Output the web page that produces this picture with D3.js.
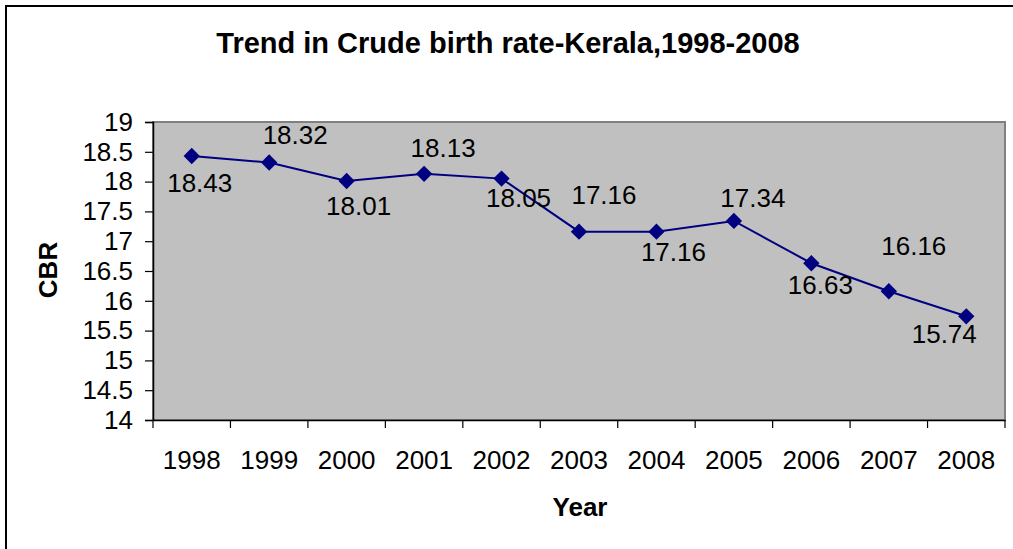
<!DOCTYPE html>
<html>
<head>
<meta charset="utf-8">
<script src="https://cdn.jsdelivr.net/npm/d3@7"></script>
<style>
  body { margin: 0; background: #fff; }
  text { font-family: "Liberation Sans", Arial, sans-serif; fill: #000; }
</style>
</head>
<body>
<svg class="chart" width="1013" height="549"></svg>
<script>
// data
var years = ["1998", "1999", "2000", "2001", "2002", "2003", "2004", "2005", "2006", "2007", "2008"];
var cbr = [18.43, 18.32, 18.01, 18.13, 18.05, 17.16, 17.16, 17.34, 16.63, 16.16, 15.74];
var yTicks = [14, 14.5, 15, 15.5, 16, 16.5, 17, 17.5, 18, 18.5, 19];

// where each value label sits relative to its marker (layout only)
var labelDx = [8, 26, 12, 19, 17, 25, 17, 19, 9, 25, -22];
var labelDy = [27, -28, 25, -26, 19, -37, 20, -23, 22, -45, 18];

var margin = {top: 122, right: 8, bottom: 129, left: 153},
    width = 1013 - margin.left - margin.right,
    height = 549 - margin.top - margin.bottom;

var svg = d3.select(".chart");

// outer frame (runs off the right / bottom edge like the original)
svg.append("rect")
  .attr("x", 6).attr("y", 6)
  .attr("width", 1030).attr("height", 570)
  .attr("fill", "none").attr("stroke", "#000").attr("stroke-width", 2);

svg.append("text")
  .attr("x", 508).attr("y", 53)
  .attr("text-anchor", "middle")
  .style("font-size", "29px").style("font-weight", "bold")
  .text("Trend in Crude birth rate-Kerala,1998-2008");

var chart = svg.append("g")
  .attr("transform", "translate(" + margin.left + "," + margin.top + ")");

var x = d3.scaleBand().domain(years).range([0, width]).padding(0);
var y = d3.scaleLinear().domain([14, 19]).range([height, 0]);

// plot area
chart.append("rect")
  .attr("width", width).attr("height", height)
  .attr("fill", "#c0c0c0")
  .attr("stroke", "#808080").attr("stroke-width", 2);

// y axis
var yAxis = chart.append("g")
  .call(d3.axisLeft(y).tickValues(yTicks).tickSize(8).tickPadding(12)
    .tickFormat(function(d) { return String(d); }));
yAxis.select(".domain").attr("stroke", "#000").attr("stroke-width", 1.5);
yAxis.selectAll("text").style("font-size", "26px").attr("font-family", null);
yAxis.selectAll("line").attr("stroke-width", 1.2);

// x axis: labels at band centres, ticks on band boundaries
var xAxis = chart.append("g")
  .attr("transform", "translate(0," + height + ")")
  .call(d3.axisBottom(x).tickSize(0).tickPadding(31));
xAxis.select(".domain").attr("stroke", "#000").attr("stroke-width", 1.5);
xAxis.selectAll("text").style("font-size", "26px").attr("font-family", null);

var bounds = years.map(function(d) { return x(d); }).concat([width]);
chart.append("g")
  .attr("transform", "translate(0," + height + ")")
  .selectAll("line")
  .data(bounds)
  .enter().append("line")
    .attr("x1", function(d) { return d; }).attr("x2", function(d) { return d; })
    .attr("y1", 0).attr("y2", 8)
    .attr("stroke", "#000").attr("stroke-width", 1.2);

// series
var line = d3.line()
  .x(function(d, i) { return x(years[i]) + x.bandwidth() / 2; })
  .y(function(d) { return y(d); });

chart.append("path")
  .datum(cbr)
  .attr("d", line)
  .attr("fill", "none")
  .attr("stroke", "#000080")
  .attr("stroke-width", 2);

chart.selectAll(".marker")
  .data(cbr)
  .enter().append("path")
    .attr("class", "marker")
    .attr("d", d3.symbol().type(d3.symbolDiamond2).size(170))
    .attr("transform", function(d, i) {
      return "translate(" + (x(years[i]) + x.bandwidth() / 2) + "," + y(d) + ")";
    })
    .attr("fill", "#000080");

chart.selectAll(".value")
  .data(cbr)
  .enter().append("text")
    .attr("class", "value")
    .attr("x", function(d, i) { return x(years[i]) + x.bandwidth() / 2 + labelDx[i]; })
    .attr("y", function(d, i) { return y(d) + labelDy[i]; })
    .attr("dy", "0.35em")
    .attr("text-anchor", "middle")
    .style("font-size", "26px")
    .text(function(d) { return d.toFixed(2); });

// axis titles
svg.append("text")
  .attr("transform", "translate(57,270) rotate(-90)")
  .attr("text-anchor", "middle")
  .style("font-size", "26px").style("font-weight", "bold")
  .text("CBR");

svg.append("text")
  .attr("x", 580).attr("y", 516)
  .attr("text-anchor", "middle")
  .style("font-size", "26px").style("font-weight", "bold")
  .text("Year");
</script>
</body>
</html>
